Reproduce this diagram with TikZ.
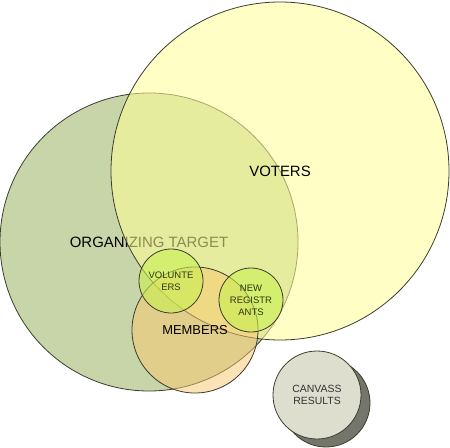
\documentclass[tikz,border=0pt]{standalone}
\usepackage{fontspec}
\setmainfont{Liberation Sans}
\usepackage{tikz}

\definecolor{orgGreen}{RGB}{200,213,168}
\definecolor{voteYellow}{RGB}{255,255,150}
\definecolor{memOrange}{RGB}{250,200,110}
\definecolor{volGreen}{RGB}{200,240,80}
\definecolor{canvGray}{RGB}{221,222,206}
\definecolor{canvShade}{RGB}{116,118,108}
\definecolor{rimLine}{RGB}{60,60,48}
\definecolor{smallText}{RGB}{45,55,20}

\tikzset{
  venn/.style={circle, draw=rimLine, line width=0.8bp, inner sep=0pt,
    text opacity=1, align=center},
  small/.style={font=\fontsize{9.5}{12}\selectfont, text=smallText},
}

\begin{document}
\begin{tikzpicture}[x=1bp, y=-1bp]
\useasboundingbox (0,0) rectangle (450,448);

% big sets
\node[venn, fill=orgGreen, minimum size=298bp,
  font=\fontsize{15}{18}\selectfont] (org) at (149,242) {ORGANIZING TARGET};
\node[venn, fill=voteYellow, fill opacity=0.55, minimum size=338bp,
  font=\fontsize{15}{18}\selectfont] (voters) at (280,171) {VOTERS};

% members and the small sets
\node[venn, fill=memOrange, fill opacity=0.5, minimum size=126bp,
  font=\fontsize{13}{16}\selectfont] (mem) at (195,330) {MEMBERS};
\node[venn, small, fill=volGreen, fill opacity=0.6, minimum size=64bp]
  (vol) at (171,281) {VOLUNTE\\ERS};
\node[venn, small, fill=volGreen, fill opacity=0.6, minimum size=64bp]
  (newreg) at (251,300) {NEW\\REGISTR\\ANTS};

% canvass results with its shadow
\node[venn, fill=canvShade, minimum size=88bp] (canvshade) at (326,403) {};
\node[venn, fill=canvGray, minimum size=88bp, text=black!80,
  font=\fontsize{10.5}{12.5}\selectfont] (canv) at (317,395) {CANVASS\\RESULTS};
\end{tikzpicture}
\end{document}
